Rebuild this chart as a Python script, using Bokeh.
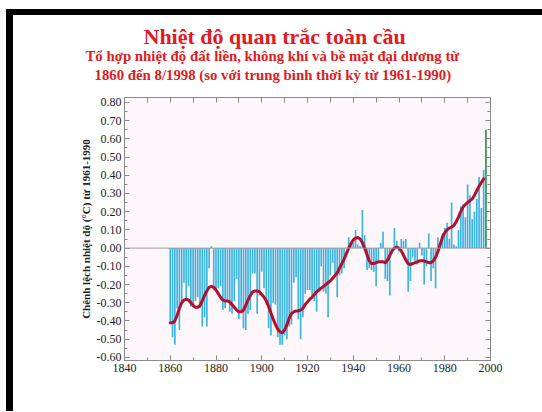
from bokeh.plotting import figure
from bokeh.layouts import column, row
from bokeh.models import (FixedTicker, LinearAxis, Span, Title, Div, CustomJSTickFormatter,
                          NumeralTickFormatter, Range1d, ColumnDataSource)
from bokeh.embed import file_html
from bokeh.resources import INLINE

# ---------------- data ----------------
years = list(range(1860, 1999))
anomaly = [
    -0.41, -0.49, -0.53, -0.33, -0.45, -0.29, -0.19, -0.29, -0.21, -0.32,  # 1860s
    -0.31, -0.29, -0.27, -0.33, -0.43, -0.38, -0.43, -0.11, 0.01, -0.23,   # 1870s
    -0.23, -0.22, -0.21, -0.34, -0.33, -0.29, -0.35, -0.36, -0.29, -0.17,  # 1880s
    -0.39, -0.34, -0.44, -0.45, -0.36, -0.34, -0.14, -0.14, -0.36, -0.26,  # 1890s
    -0.13, -0.22, -0.31, -0.44, -0.48, -0.30, -0.31, -0.49, -0.53, -0.53,  # 1900s
    -0.48, -0.50, -0.43, -0.42, -0.19, -0.16, -0.39, -0.50, -0.38, -0.25,  # 1910s
    -0.23, -0.23, -0.27, -0.29, -0.35, -0.24, -0.10, -0.24, -0.25, -0.38,  # 1920s
    -0.15, -0.08, -0.14, -0.27, -0.15, -0.14, -0.11, 0.00, 0.06, 0.02,     # 1930s
    0.03, 0.10, 0.02, 0.01, 0.21, 0.07, -0.12, -0.11, -0.12, -0.13,        # 1940s
    -0.21, -0.07, 0.03, 0.09, -0.17, -0.18, -0.26, -0.02, 0.11, 0.04,      # 1950s
    -0.02, 0.05, 0.04, 0.05, -0.24, -0.18, -0.05, -0.07, -0.09, 0.03,      # 1960s
    -0.04, -0.20, -0.10, 0.08, -0.18, -0.11, -0.22, 0.06, 0.02, 0.08,      # 1970s
    0.11, 0.14, 0.05, 0.25, 0.02, 0.01, 0.10, 0.23, 0.24, 0.17,            # 1980s
    0.35, 0.29, 0.16, 0.20, 0.27, 0.39, 0.22, 0.43, 0.65,                  # 1990s
]
highlight_year = 1998

smooth_years = list(range(1860, 1998))
smooth = [
    -0.41, -0.41, -0.40, -0.37, -0.33, -0.30, -0.285, -0.28, -0.285, -0.30,
    -0.315, -0.325, -0.325, -0.315, -0.29, -0.26, -0.235, -0.215, -0.21, -0.215,
    -0.23, -0.25, -0.27, -0.285, -0.29, -0.29, -0.295, -0.31, -0.325, -0.34,
    -0.35, -0.35, -0.34, -0.315, -0.285, -0.26, -0.24, -0.235, -0.235, -0.24,
    -0.255, -0.27, -0.29, -0.32, -0.355, -0.39, -0.42, -0.445, -0.46, -0.465,
    -0.45, -0.42, -0.385, -0.36, -0.35, -0.345, -0.345, -0.34, -0.33, -0.31,
    -0.295, -0.28, -0.27, -0.255, -0.24, -0.23, -0.22, -0.21, -0.20, -0.19,
    -0.18, -0.165, -0.15, -0.135, -0.11, -0.085, -0.06, -0.03, 0.00, 0.025,
    0.045, 0.055, 0.058, 0.05, 0.03, 0.00, -0.035, -0.07, -0.085, -0.085,
    -0.08, -0.075, -0.075, -0.075, -0.08, -0.065, -0.04, -0.015, 0.00, 0.005,
    0.00, -0.015, -0.04, -0.065, -0.085, -0.09, -0.085, -0.08, -0.075, -0.07,
    -0.07, -0.07, -0.075, -0.08, -0.08, -0.07, -0.05, -0.02, 0.02, 0.06,
    0.085, 0.10, 0.11, 0.115, 0.125, 0.145, 0.17, 0.20, 0.225, 0.24,
    0.25, 0.26, 0.27, 0.29, 0.315, 0.34, 0.36, 0.38,
]

y_ticks = [-0.6, -0.5, -0.4, -0.3, -0.2, -0.1, 0.0, 0.1, 0.2, 0.3, 0.4, 0.5, 0.6, 0.7, 0.8]
y_minor = [-0.55, -0.45, -0.35, -0.25, -0.15, -0.05, 0.05, 0.15, 0.25, 0.35, 0.45, 0.55, 0.65, 0.75]
x_ticks = [1840, 1860, 1880, 1900, 1920, 1940, 1960, 1980, 2000]
x_minor = [1850, 1870, 1890, 1910, 1930, 1950, 1970, 1990]
x_top_ticks = [1840, 1850, 1860, 1870, 1880, 1890, 1900, 1910, 1920, 1930,
               1940, 1950, 1960, 1970, 1980, 1990, 2000]

title_main = "Nhiệt độ quan trắc toàn cầu"
title_sub1 = "Tổ hợp nhiệt độ đất liền, không khí và bề mặt đại dương từ"
title_sub2 = "1860 đến 8/1998 (so với trung bình thời kỳ từ 1961-1990)"
y_label = "Chênh lệch nhiệt độ (°C) từ 1961-1990"

# ---------------- styles ----------------
BLUE = "#3cb2de"
GREEN = "#1f9a45"
RED_LINE = "#b3102c"
TITLE_RED = "#e01b22"
SERIF = "Liberation Serif"
FIG_W = 528
FIG_H = 396

colors = [GREEN if y == highlight_year else BLUE for y in years]
src = ColumnDataSource(dict(x=years, top=anomaly, color=colors))

p = figure(width=FIG_W, height=FIG_H, output_backend="svg", toolbar_location=None,
           x_range=Range1d(1840, 2000), y_range=Range1d(-0.617, 0.827),
           min_border_left=111, min_border_right=51, min_border_top=82,
           min_border_bottom=51, x_axis_type=None, y_axis_type=None)
p.grid.visible = False
p.background_fill_color = "#fdf7fc"
p.border_fill_color = "white"
p.outline_line_color = "#9a9a9a"

blank = CustomJSTickFormatter(code="return ''")

def style_axis(ax, show_labels=True):
    ax.axis_line_color = "#8a8a8a"
    ax.major_tick_line_color = "#8a8a8a"
    ax.minor_tick_line_color = "#8a8a8a"
    ax.major_tick_in = 5
    ax.major_tick_out = 0
    ax.minor_tick_in = 3
    ax.minor_tick_out = 0
    ax.major_label_text_font = SERIF
    ax.major_label_text_font_size = "12px"
    ax.major_label_text_color = "#222222"
    ax.major_label_standoff = 3 if show_labels else 0

left = LinearAxis(ticker=FixedTicker(ticks=y_ticks, minor_ticks=y_minor),
                  formatter=NumeralTickFormatter(format="0.00"))
style_axis(left)
left.axis_label = y_label
left.axis_label_text_font = SERIF
left.axis_label_text_font_style = "bold"
left.axis_label_text_font_size = "11px"
left.axis_label_text_color = "#222222"
left.axis_label_standoff = 2
p.add_layout(left, "left")

right = LinearAxis(ticker=FixedTicker(ticks=y_ticks, minor_ticks=y_minor), formatter=blank)
style_axis(right, show_labels=False)
p.add_layout(right, "right")

bottom = LinearAxis(ticker=FixedTicker(ticks=x_ticks, minor_ticks=x_minor))
style_axis(bottom)
p.add_layout(bottom, "below")

top = LinearAxis(ticker=FixedTicker(ticks=x_top_ticks), formatter=blank)
style_axis(top, show_labels=False)
p.add_layout(top, "above")

# invisible spacer between the top ticks and the titles
spacer = LinearAxis(ticker=FixedTicker(ticks=x_top_ticks), formatter=blank,
                    axis_line_color=None, major_tick_line_color=None,
                    minor_tick_line_color=None, major_tick_in=0, major_tick_out=10,
                    minor_tick_out=0, major_label_standoff=0)
p.add_layout(spacer, "above")

p.add_layout(Span(location=0, dimension="width", line_color="#9a9a9a", line_width=1))

p.vbar(x="x", top="top", bottom=0, width=0.72, fill_color="color",
       line_color=None, source=src)
p.line(smooth_years, smooth, line_color=RED_LINE, line_width=3,
       line_join="round", line_cap="round")

# titles: p.title is outermost; the added ones stack toward the frame
def style_title(t, size, offset, standoff):
    t.text_font = SERIF
    t.text_font_style = "bold"
    t.text_font_size = size
    t.text_color = TITLE_RED
    t.align = "left"
    t.offset = offset
    t.standoff = standoff

sub2 = Title(text=title_sub2)
style_title(sub2, "14.8px", -30, 10)
p.add_layout(sub2, "above")
sub1 = Title(text=title_sub1)
style_title(sub1, "14.8px", -39, -9)
p.add_layout(sub1, "above")
p.title.text = title_main
style_title(p.title, "22px", 19, 3)

# ---------------- black frame of the slide ----------------
top_bar = Div(text="", width=536, height=6, margin=0,
              styles={"background-color": "black"})
left_bar = Div(text="", width=7, height=FIG_H, margin=0,
               styles={"background-color": "black"})

layout = column(top_bar, row(left_bar, p, spacing=0), spacing=0, margin=(9, 0, 0, 6))

open("out.html", "w").write(file_html(layout, INLINE))
